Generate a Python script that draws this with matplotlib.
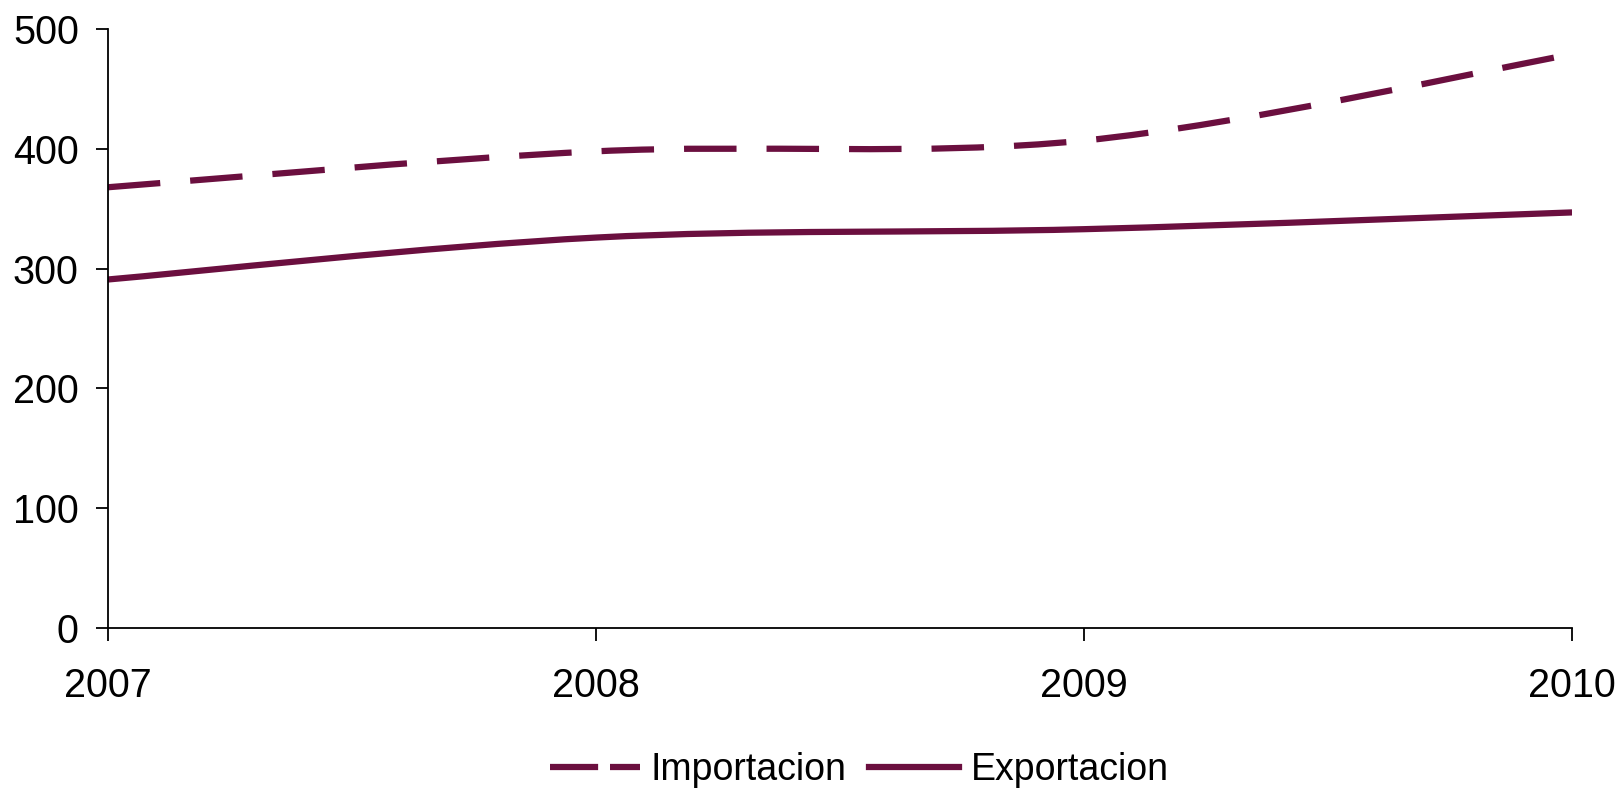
import numpy as np
import matplotlib.pyplot as plt
from matplotlib.path import Path
from matplotlib.patches import PathPatch
from matplotlib.lines import Line2D

plt.rcParams['font.family'] = ['Liberation Sans', 'DejaVu Sans']

# datos
years = ['2007', '2008', '2009', '2010']
importacion = [368, 398, 407, 479]
exportacion = [291, 326, 333, 347]

color = '#6B0F3F'


def smooth_path(xs, ys):
    # curva suavizada tipo Excel (Catmull-Rom -> Bezier)
    pts = np.column_stack([xs, ys]).astype(float)
    ext = np.vstack([pts[0], pts, pts[-1]])
    verts = [pts[0]]
    codes = [Path.MOVETO]
    for i in range(len(pts) - 1):
        p0, p1, p2, p3 = ext[i], ext[i + 1], ext[i + 2], ext[i + 3]
        c1 = p1 + (p2 - p0) / 6.0
        c2 = p2 - (p3 - p1) / 6.0
        verts += [c1, c2, p2]
        codes += [Path.CURVE4] * 3
    return Path(verts, codes)


fig = plt.figure(figsize=(16.18, 7.88), dpi=100)
ax = fig.add_axes([0.0667, 0.203, 0.9049, 0.760])

x = np.arange(len(years))
lw = 4.5
ax.add_patch(PathPatch(smooth_path(x, importacion), fill=False, edgecolor=color,
                       linewidth=lw, linestyle=(0, (8.4, 4.8)), capstyle='butt'))
ax.add_patch(PathPatch(smooth_path(x, exportacion), fill=False, edgecolor=color,
                       linewidth=lw, linestyle='-', capstyle='butt'))

ax.set_xlim(0, len(years) - 1)
ax.set_ylim(0, 500)
ax.set_xticks(x)
ax.set_xticklabels(years)
ax.set_yticks(np.arange(0, 501, 100))

for s in ['top', 'right']:
    ax.spines[s].set_visible(False)
for s in ['left', 'bottom']:
    ax.spines[s].set_linewidth(1.3)
    ax.spines[s].set_color('black')

ax.tick_params(axis='both', labelsize=28.5, width=1.3, length=9, direction='out')
ax.tick_params(axis='x', pad=19)
ax.tick_params(axis='y', pad=12)

handles = [Line2D([], [], color=color, lw=lw, linestyle=(0, (7.7, 1.9)), dash_capstyle='butt'),
           Line2D([], [], color=color, lw=lw, linestyle='-')]
fig.legend(handles, ['Importacion', 'Exportacion'], loc='center',
           bbox_to_anchor=(0.531, 0.023), ncol=2, frameon=False, fontsize=27,
           handlelength=2.4, handletextpad=0.3, columnspacing=0.6,
           borderpad=0.1)

fig.savefig('out.png', dpi=100)
